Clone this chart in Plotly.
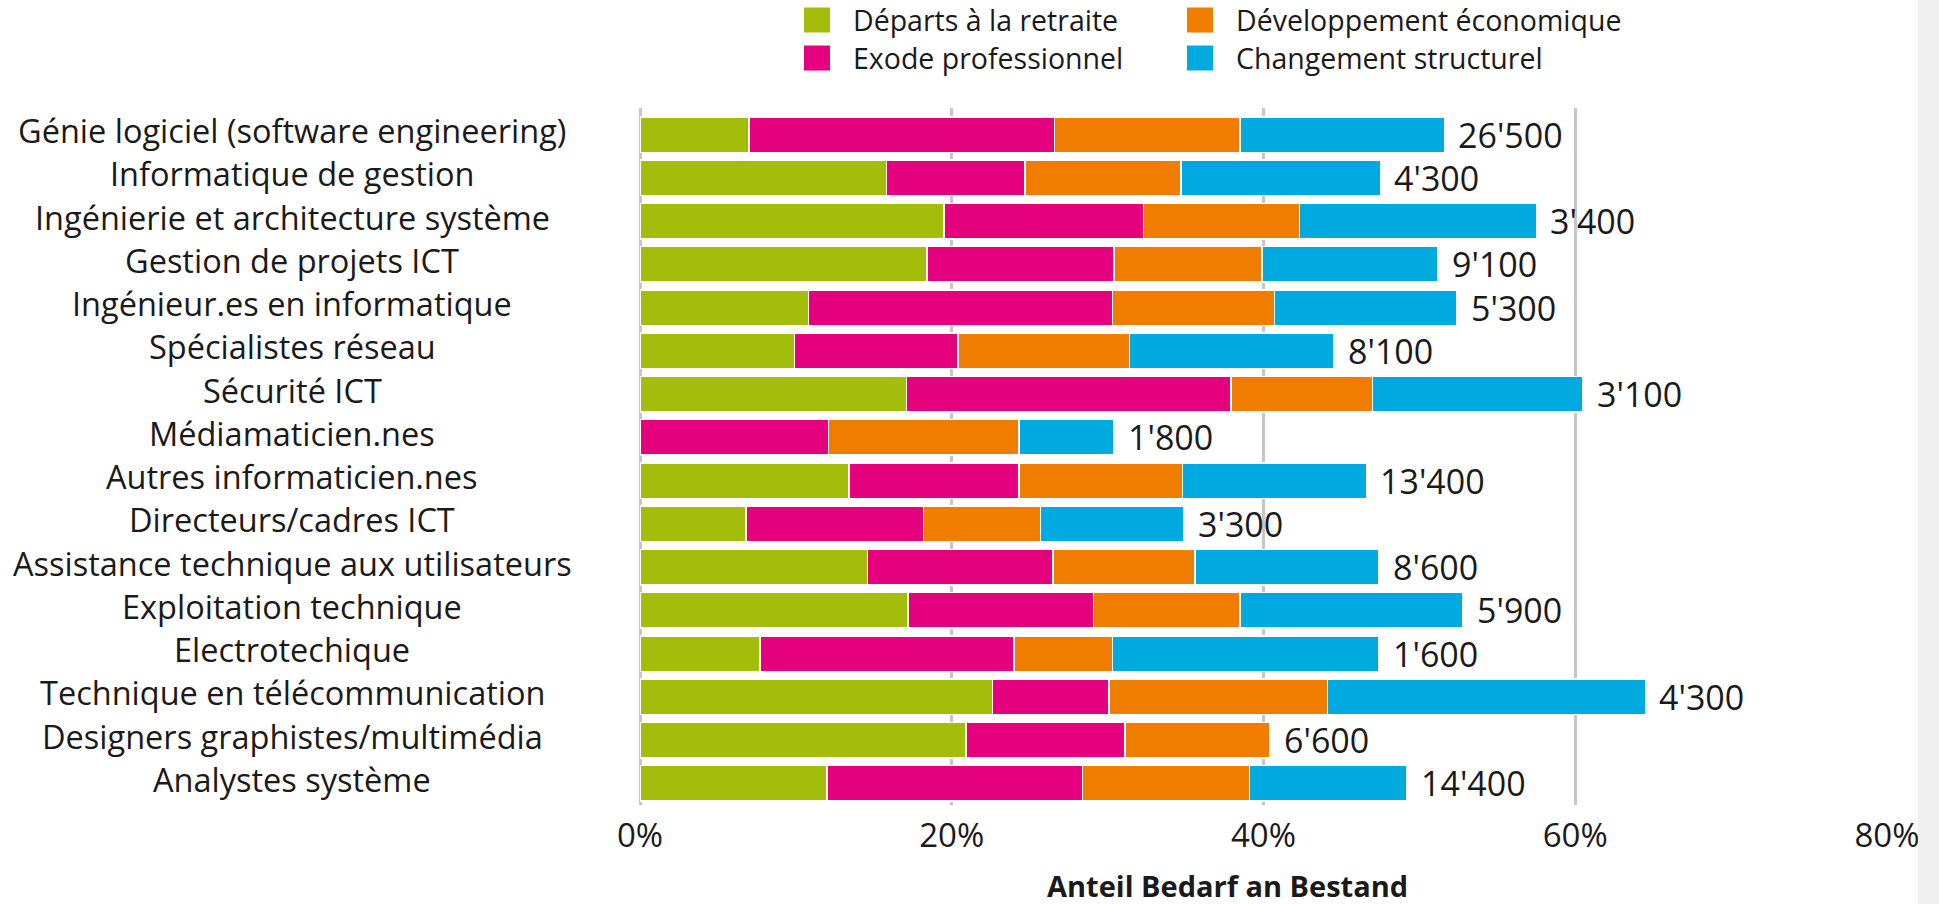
import plotly.graph_objects as go

categories = [
    "Génie logiciel (software engineering)",
    "Informatique de gestion",
    "Ingénierie et architecture système",
    "Gestion de projets ICT",
    "Ingénieur.es en informatique",
    "Spécialistes réseau",
    "Sécurité ICT",
    "Médiamaticien.nes",
    "Autres informaticien.nes",
    "Directeurs/cadres ICT",
    "Assistance technique aux utilisateurs",
    "Exploitation technique",
    "Electrotechique",
    "Technique en télécommunication",
    "Designers graphistes/multimédia",
    "Analystes système",
]

retraite = [7.0, 15.8, 19.5, 18.4, 10.8, 9.9, 17.1, 0.0, 13.4, 6.8, 14.6, 17.2, 7.7, 22.6, 20.9, 12.0]
exode = [19.6, 8.9, 12.8, 12.0, 19.5, 10.5, 20.8, 12.1, 10.9, 11.4, 11.9, 11.9, 16.3, 7.5, 10.2, 16.4]
developpement = [11.9, 10.0, 10.0, 9.5, 10.4, 11.0, 9.1, 12.2, 10.5, 7.5, 9.1, 9.4, 6.3, 14.0, 9.3, 10.7]
structurel = [13.1, 12.8, 15.2, 11.3, 11.7, 13.1, 13.5, 6.1, 11.8, 9.2, 11.8, 14.3, 17.1, 20.4, 0.0, 10.1]
bestand_labels = ["26'500", "4'300", "3'400", "9'100", "5'300", "8'100", "3'100", "1'800",
                  "13'400", "3'300", "8'600", "5'900", "1'600", "4'300", "6'600", "14'400"]

series_names = ["Départs à la retraite", "Exode professionnel",
                "Développement économique", "Changement structurel"]
series_values = [retraite, exode, developpement, structurel]
series_colors = ["#A4BC0A", "#E5007E", "#F07C00", "#00AAE1"]

FONT = "Open Sans"
TXT = "#1a1a1a"

# figure geometry (pixels)
W, H = 1939, 904
ML, MR, MT, MB = 640, 52, 108, 99
PW, PH = W - ML - MR, H - MT - MB


def px_to_paper_x(px):
    return (px - ML) / PW


def px_to_paper_y(py):
    return (H - MB - py) / PH


fig = go.Figure()
for name, vals, color in zip(series_names, series_values, series_colors):
    fig.add_trace(go.Bar(
        name=name, y=categories, x=vals, orientation="h",
        marker=dict(color=color, line=dict(color="white", width=1.5)),
        showlegend=False,
    ))

annotations = []
shapes = []

# Bestand labels at the end of each stacked bar
totals = [a + b + c + d for a, b, c, d in zip(*series_values)]
for cat, tot, lab in zip(categories, totals, bestand_labels):
    annotations.append(dict(
        x=tot, xref="x", y=cat, yref="y", text=lab, showarrow=False,
        xanchor="left", yanchor="middle", xshift=12,
        font=dict(family=FONT, size=34, color=TXT),
    ))

# Category labels centred to the left of the plot
for c in categories:
    annotations.append(dict(
        x=px_to_paper_x(292), xref="paper", y=c, yref="y", text=c, showarrow=False,
        xanchor="center", yanchor="middle", yshift=4,
        font=dict(family=FONT, size=32.5, color=TXT),
    ))

# Legend (2 x 2): column 1 green / pink, column 2 orange / blue
legend_layout = [  # (series index, swatch left px, row)
    (0, 804, 0), (1, 804, 1), (2, 1187, 0), (3, 1187, 1),
]
row_centres = [20, 58]
for idx, sx, row in legend_layout:
    cy = row_centres[row]
    shapes.append(dict(
        type="rect", xref="paper", yref="paper",
        x0=px_to_paper_x(sx), x1=px_to_paper_x(sx + 26),
        y0=px_to_paper_y(cy + 12.5), y1=px_to_paper_y(cy - 12.5),
        fillcolor=series_colors[idx], line=dict(width=0),
    ))
    annotations.append(dict(
        x=px_to_paper_x(sx + 47), xref="paper", y=px_to_paper_y(cy), yref="paper",
        text=series_names[idx], showarrow=False, xanchor="left", yanchor="middle",
        font=dict(family=FONT, size=28.5, color=TXT),
    ))

# Axis title
annotations.append(dict(
    x=px_to_paper_x(1227), xref="paper", y=px_to_paper_y(885), yref="paper",
    text="<b>Anteil Bedarf an Bestand</b>", showarrow=False,
    xanchor="center", yanchor="middle",
    font=dict(family=FONT, size=29, color=TXT),
))

# light grey strip on the right edge
shapes.append(dict(type="rect", xref="paper", yref="paper",
                   x0=px_to_paper_x(1918), x1=px_to_paper_x(1945),
                   y0=px_to_paper_y(910), y1=px_to_paper_y(-10),
                   fillcolor="#efefef", line=dict(width=0), layer="above"))

fig.update_layout(
    barmode="stack",
    bargap=0.18,
    width=W, height=H,
    margin=dict(l=ML, r=MR, t=MT, b=MB, autoexpand=False),
    plot_bgcolor="white", paper_bgcolor="white",
    font=dict(family=FONT, color=TXT),
    showlegend=False,
    xaxis=dict(
        range=[0, 80], dtick=20, tick0=0, ticksuffix="%",
        showgrid=True, gridcolor="#c6c6c6", gridwidth=2.5,
        zeroline=True, zerolinecolor="#c6c6c6", zerolinewidth=2.5,
        tickfont=dict(family=FONT, size=33, color=TXT),
        ticklabelstandoff=8,
        fixedrange=True,
    ),
    yaxis=dict(
        categoryorder="array", categoryarray=categories,
        range=[15.5, -0.613], showticklabels=False, showgrid=False,
        zeroline=False, fixedrange=True,
    ),
    annotations=annotations,
    shapes=shapes,
)

fig.write_html("out.html", config={"displayModeBar": False},
               post_script="document.body.style.margin='0';document.body.style.overflow='hidden';")
